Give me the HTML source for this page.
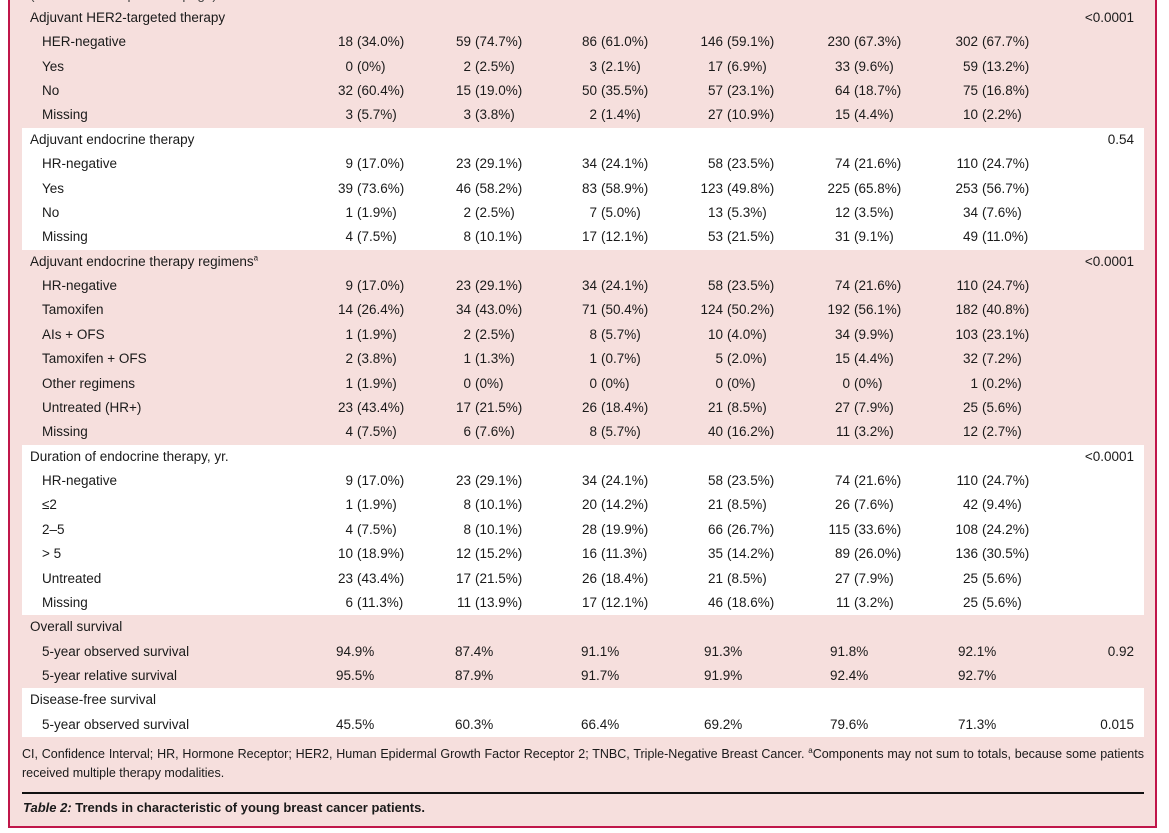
<!DOCTYPE html>
<html><head><meta charset="utf-8"><style>
*{margin:0;padding:0;box-sizing:border-box}
body{width:1169px;height:833px;background:#fff;font-family:"Liberation Sans","DejaVu Sans",sans-serif;font-size:13.5px;color:#1a1a1a;position:relative;overflow:hidden}
#frame{position:absolute;left:0;top:-4px;width:1157px;height:832px;background:#f6dfdd;border:2px solid #c0174a;border-top:none;border-left:none}
#lb{position:absolute;left:8px;top:0;width:2px;height:828px;background:#c0174a}
#lbg{position:absolute;left:0;top:0;width:8px;height:833px;background:#fff}
.w{position:absolute;left:22px;width:1122px;background:#fff}
.r{position:absolute;left:0;width:1169px;height:24.38px;line-height:24.38px;white-space:nowrap}
.h{position:absolute;left:30px}
.s{position:absolute;left:42px}
.c{position:absolute}
.c b{position:absolute;right:100%;font-weight:normal}
.c span{padding-left:4px}
.c1{left:353px}.c2{left:471px}.c3{left:597px}.c4{left:723px}.c5{left:850px}.c6{left:978px}
.p1{left:336px}.p2{left:455px}.p3{left:581px}.p4{left:704px}.p5{left:830px}.p6{left:958px}
.pv{position:absolute;right:35px}
sup{font-size:8px;line-height:0}
</style></head><body>
<div id="frame"></div><div id="lbg"></div><div id="lb"></div>
<div class="r" style="top:-17px;left:0"><span class="h" style="color:#444">(continued from previous page)</span></div>
<div class="w" style="top:127.7px;height:121.9px"></div>
<div class="w" style="top:444.6px;height:170.7px"></div>
<div class="w" style="top:688.4px;height:48.8px"></div>

<div class="r" style="top:5.8px"><span class="h">Adjuvant HER2-targeted therapy</span><span class="pv">&lt;0.0001</span></div>
<div class="r" style="top:30.2px"><span class="s">HER-negative</span><span class="c c1"><b>18</b><span>(34.0%)</span></span><span class="c c2"><b>59</b><span>(74.7%)</span></span><span class="c c3"><b>86</b><span>(61.0%)</span></span><span class="c c4"><b>146</b><span>(59.1%)</span></span><span class="c c5"><b>230</b><span>(67.3%)</span></span><span class="c c6"><b>302</b><span>(67.7%)</span></span></div>
<div class="r" style="top:54.6px"><span class="s">Yes</span><span class="c c1"><b>0</b><span>(0%)</span></span><span class="c c2"><b>2</b><span>(2.5%)</span></span><span class="c c3"><b>3</b><span>(2.1%)</span></span><span class="c c4"><b>17</b><span>(6.9%)</span></span><span class="c c5"><b>33</b><span>(9.6%)</span></span><span class="c c6"><b>59</b><span>(13.2%)</span></span></div>
<div class="r" style="top:79.0px"><span class="s">No</span><span class="c c1"><b>32</b><span>(60.4%)</span></span><span class="c c2"><b>15</b><span>(19.0%)</span></span><span class="c c3"><b>50</b><span>(35.5%)</span></span><span class="c c4"><b>57</b><span>(23.1%)</span></span><span class="c c5"><b>64</b><span>(18.7%)</span></span><span class="c c6"><b>75</b><span>(16.8%)</span></span></div>
<div class="r" style="top:103.3px"><span class="s">Missing</span><span class="c c1"><b>3</b><span>(5.7%)</span></span><span class="c c2"><b>3</b><span>(3.8%)</span></span><span class="c c3"><b>2</b><span>(1.4%)</span></span><span class="c c4"><b>27</b><span>(10.9%)</span></span><span class="c c5"><b>15</b><span>(4.4%)</span></span><span class="c c6"><b>10</b><span>(2.2%)</span></span></div>

<div class="r" style="top:127.7px"><span class="h">Adjuvant endocrine therapy</span><span class="pv">0.54</span></div>
<div class="r" style="top:152.1px"><span class="s">HR-negative</span><span class="c c1"><b>9</b><span>(17.0%)</span></span><span class="c c2"><b>23</b><span>(29.1%)</span></span><span class="c c3"><b>34</b><span>(24.1%)</span></span><span class="c c4"><b>58</b><span>(23.5%)</span></span><span class="c c5"><b>74</b><span>(21.6%)</span></span><span class="c c6"><b>110</b><span>(24.7%)</span></span></div>
<div class="r" style="top:176.5px"><span class="s">Yes</span><span class="c c1"><b>39</b><span>(73.6%)</span></span><span class="c c2"><b>46</b><span>(58.2%)</span></span><span class="c c3"><b>83</b><span>(58.9%)</span></span><span class="c c4"><b>123</b><span>(49.8%)</span></span><span class="c c5"><b>225</b><span>(65.8%)</span></span><span class="c c6"><b>253</b><span>(56.7%)</span></span></div>
<div class="r" style="top:200.8px"><span class="s">No</span><span class="c c1"><b>1</b><span>(1.9%)</span></span><span class="c c2"><b>2</b><span>(2.5%)</span></span><span class="c c3"><b>7</b><span>(5.0%)</span></span><span class="c c4"><b>13</b><span>(5.3%)</span></span><span class="c c5"><b>12</b><span>(3.5%)</span></span><span class="c c6"><b>34</b><span>(7.6%)</span></span></div>
<div class="r" style="top:225.2px"><span class="s">Missing</span><span class="c c1"><b>4</b><span>(7.5%)</span></span><span class="c c2"><b>8</b><span>(10.1%)</span></span><span class="c c3"><b>17</b><span>(12.1%)</span></span><span class="c c4"><b>53</b><span>(21.5%)</span></span><span class="c c5"><b>31</b><span>(9.1%)</span></span><span class="c c6"><b>49</b><span>(11.0%)</span></span></div>

<div class="r" style="top:249.6px"><span class="h">Adjuvant endocrine therapy regimens<sup>a</sup></span><span class="pv">&lt;0.0001</span></div>
<div class="r" style="top:274.0px"><span class="s">HR-negative</span><span class="c c1"><b>9</b><span>(17.0%)</span></span><span class="c c2"><b>23</b><span>(29.1%)</span></span><span class="c c3"><b>34</b><span>(24.1%)</span></span><span class="c c4"><b>58</b><span>(23.5%)</span></span><span class="c c5"><b>74</b><span>(21.6%)</span></span><span class="c c6"><b>110</b><span>(24.7%)</span></span></div>
<div class="r" style="top:298.4px"><span class="s">Tamoxifen</span><span class="c c1"><b>14</b><span>(26.4%)</span></span><span class="c c2"><b>34</b><span>(43.0%)</span></span><span class="c c3"><b>71</b><span>(50.4%)</span></span><span class="c c4"><b>124</b><span>(50.2%)</span></span><span class="c c5"><b>192</b><span>(56.1%)</span></span><span class="c c6"><b>182</b><span>(40.8%)</span></span></div>
<div class="r" style="top:322.7px"><span class="s">AIs + OFS</span><span class="c c1"><b>1</b><span>(1.9%)</span></span><span class="c c2"><b>2</b><span>(2.5%)</span></span><span class="c c3"><b>8</b><span>(5.7%)</span></span><span class="c c4"><b>10</b><span>(4.0%)</span></span><span class="c c5"><b>34</b><span>(9.9%)</span></span><span class="c c6"><b>103</b><span>(23.1%)</span></span></div>
<div class="r" style="top:347.1px"><span class="s">Tamoxifen + OFS</span><span class="c c1"><b>2</b><span>(3.8%)</span></span><span class="c c2"><b>1</b><span>(1.3%)</span></span><span class="c c3"><b>1</b><span>(0.7%)</span></span><span class="c c4"><b>5</b><span>(2.0%)</span></span><span class="c c5"><b>15</b><span>(4.4%)</span></span><span class="c c6"><b>32</b><span>(7.2%)</span></span></div>
<div class="r" style="top:371.5px"><span class="s">Other regimens</span><span class="c c1"><b>1</b><span>(1.9%)</span></span><span class="c c2"><b>0</b><span>(0%)</span></span><span class="c c3"><b>0</b><span>(0%)</span></span><span class="c c4"><b>0</b><span>(0%)</span></span><span class="c c5"><b>0</b><span>(0%)</span></span><span class="c c6"><b>1</b><span>(0.2%)</span></span></div>
<div class="r" style="top:395.9px"><span class="s">Untreated (HR+)</span><span class="c c1"><b>23</b><span>(43.4%)</span></span><span class="c c2"><b>17</b><span>(21.5%)</span></span><span class="c c3"><b>26</b><span>(18.4%)</span></span><span class="c c4"><b>21</b><span>(8.5%)</span></span><span class="c c5"><b>27</b><span>(7.9%)</span></span><span class="c c6"><b>25</b><span>(5.6%)</span></span></div>
<div class="r" style="top:420.3px"><span class="s">Missing</span><span class="c c1"><b>4</b><span>(7.5%)</span></span><span class="c c2"><b>6</b><span>(7.6%)</span></span><span class="c c3"><b>8</b><span>(5.7%)</span></span><span class="c c4"><b>40</b><span>(16.2%)</span></span><span class="c c5"><b>11</b><span>(3.2%)</span></span><span class="c c6"><b>12</b><span>(2.7%)</span></span></div>

<div class="r" style="top:444.6px"><span class="h">Duration of endocrine therapy, yr.</span><span class="pv">&lt;0.0001</span></div>
<div class="r" style="top:469.0px"><span class="s">HR-negative</span><span class="c c1"><b>9</b><span>(17.0%)</span></span><span class="c c2"><b>23</b><span>(29.1%)</span></span><span class="c c3"><b>34</b><span>(24.1%)</span></span><span class="c c4"><b>58</b><span>(23.5%)</span></span><span class="c c5"><b>74</b><span>(21.6%)</span></span><span class="c c6"><b>110</b><span>(24.7%)</span></span></div>
<div class="r" style="top:493.4px"><span class="s">≤2</span><span class="c c1"><b>1</b><span>(1.9%)</span></span><span class="c c2"><b>8</b><span>(10.1%)</span></span><span class="c c3"><b>20</b><span>(14.2%)</span></span><span class="c c4"><b>21</b><span>(8.5%)</span></span><span class="c c5"><b>26</b><span>(7.6%)</span></span><span class="c c6"><b>42</b><span>(9.4%)</span></span></div>
<div class="r" style="top:517.8px"><span class="s">2–5</span><span class="c c1"><b>4</b><span>(7.5%)</span></span><span class="c c2"><b>8</b><span>(10.1%)</span></span><span class="c c3"><b>28</b><span>(19.9%)</span></span><span class="c c4"><b>66</b><span>(26.7%)</span></span><span class="c c5"><b>115</b><span>(33.6%)</span></span><span class="c c6"><b>108</b><span>(24.2%)</span></span></div>
<div class="r" style="top:542.2px"><span class="s">&gt; 5</span><span class="c c1"><b>10</b><span>(18.9%)</span></span><span class="c c2"><b>12</b><span>(15.2%)</span></span><span class="c c3"><b>16</b><span>(11.3%)</span></span><span class="c c4"><b>35</b><span>(14.2%)</span></span><span class="c c5"><b>89</b><span>(26.0%)</span></span><span class="c c6"><b>136</b><span>(30.5%)</span></span></div>
<div class="r" style="top:566.5px"><span class="s">Untreated</span><span class="c c1"><b>23</b><span>(43.4%)</span></span><span class="c c2"><b>17</b><span>(21.5%)</span></span><span class="c c3"><b>26</b><span>(18.4%)</span></span><span class="c c4"><b>21</b><span>(8.5%)</span></span><span class="c c5"><b>27</b><span>(7.9%)</span></span><span class="c c6"><b>25</b><span>(5.6%)</span></span></div>
<div class="r" style="top:590.9px"><span class="s">Missing</span><span class="c c1"><b>6</b><span>(11.3%)</span></span><span class="c c2"><b>11</b><span>(13.9%)</span></span><span class="c c3"><b>17</b><span>(12.1%)</span></span><span class="c c4"><b>46</b><span>(18.6%)</span></span><span class="c c5"><b>11</b><span>(3.2%)</span></span><span class="c c6"><b>25</b><span>(5.6%)</span></span></div>

<div class="r" style="top:615.3px"><span class="h">Overall survival</span></div>
<div class="r" style="top:639.7px"><span class="s">5-year observed survival</span><span class="c p1">94.9%</span><span class="c p2">87.4%</span><span class="c p3">91.1%</span><span class="c p4">91.3%</span><span class="c p5">91.8%</span><span class="c p6">92.1%</span><span class="pv">0.92</span></div>
<div class="r" style="top:664.1px"><span class="s">5-year relative survival</span><span class="c p1">95.5%</span><span class="c p2">87.9%</span><span class="c p3">91.7%</span><span class="c p4">91.9%</span><span class="c p5">92.4%</span><span class="c p6">92.7%</span></div>

<div class="r" style="top:688.4px"><span class="h">Disease-free survival</span></div>
<div class="r" style="top:712.8px"><span class="s">5-year observed survival</span><span class="c p1">45.5%</span><span class="c p2">60.3%</span><span class="c p3">66.4%</span><span class="c p4">69.2%</span><span class="c p5">79.6%</span><span class="c p6">71.3%</span><span class="pv">0.015</span></div>

<div style="position:absolute;left:22px;top:745px;width:1122px;font-size:12.5px;line-height:18.5px;text-align:justify;text-align-last:left">CI, Confidence Interval; HR, Hormone Receptor; HER2, Human Epidermal Growth Factor Receptor 2; TNBC, Triple-Negative Breast Cancer. <sup>a</sup>Components may not sum to totals, because some patients received multiple therapy modalities.</div>
<div style="position:absolute;left:22px;top:792px;width:1122px;height:2px;background:#111"></div>
<div style="position:absolute;left:23px;top:799px;font-size:13px;font-weight:bold;line-height:18px"><i>Table 2:</i> Trends in characteristic of young breast cancer patients.</div>
</body></html>
